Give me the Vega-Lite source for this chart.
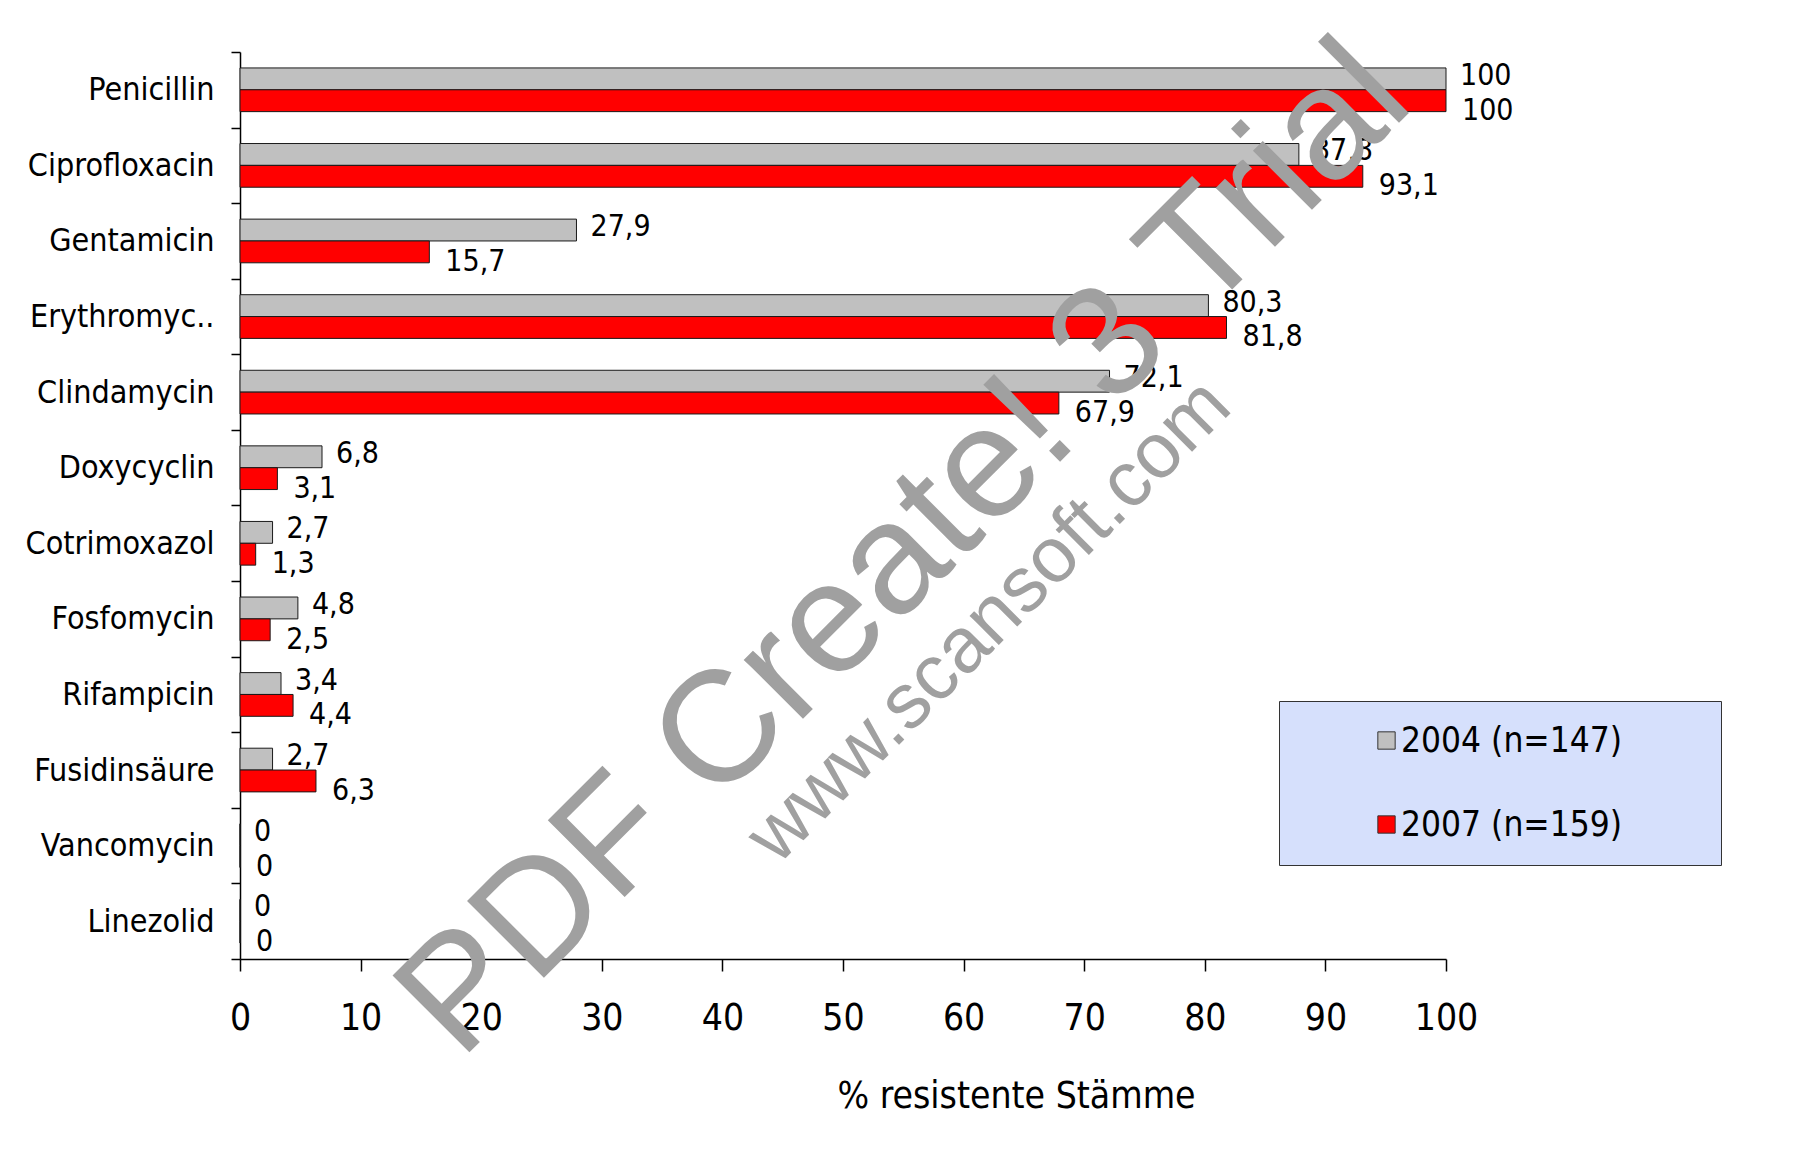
{
  "$schema": "https://vega.github.io/schema/vega-lite/v6.json",
  "width": 1206,
  "height": 907,
  "autosize": {"type": "none"},
  "padding": {"left": 240, "top": 52, "right": 354, "bottom": 192},
  "background": "white",
  "config": {
    "view": {"stroke": null},
    "font": "DejaVu Sans Condensed",
    "locale": {"number": {"decimal": ",", "thousands": ".", "grouping": [3], "currency": ["", " €"]}}
  },
  "datasets": {
    "resistance": [
      {"antibiotic": "Penicillin", "series": "2004 (n=147)", "value": 100},
      {"antibiotic": "Penicillin", "series": "2007 (n=159)", "value": 100},
      {"antibiotic": "Ciprofloxacin", "series": "2004 (n=147)", "value": 87.8},
      {"antibiotic": "Ciprofloxacin", "series": "2007 (n=159)", "value": 93.1},
      {"antibiotic": "Gentamicin", "series": "2004 (n=147)", "value": 27.9},
      {"antibiotic": "Gentamicin", "series": "2007 (n=159)", "value": 15.7},
      {"antibiotic": "Erythromyc..", "series": "2004 (n=147)", "value": 80.3},
      {"antibiotic": "Erythromyc..", "series": "2007 (n=159)", "value": 81.8},
      {"antibiotic": "Clindamycin", "series": "2004 (n=147)", "value": 72.1},
      {"antibiotic": "Clindamycin", "series": "2007 (n=159)", "value": 67.9},
      {"antibiotic": "Doxycyclin", "series": "2004 (n=147)", "value": 6.8},
      {"antibiotic": "Doxycyclin", "series": "2007 (n=159)", "value": 3.1},
      {"antibiotic": "Cotrimoxazol", "series": "2004 (n=147)", "value": 2.7},
      {"antibiotic": "Cotrimoxazol", "series": "2007 (n=159)", "value": 1.3},
      {"antibiotic": "Fosfomycin", "series": "2004 (n=147)", "value": 4.8},
      {"antibiotic": "Fosfomycin", "series": "2007 (n=159)", "value": 2.5},
      {"antibiotic": "Rifampicin", "series": "2004 (n=147)", "value": 3.4},
      {"antibiotic": "Rifampicin", "series": "2007 (n=159)", "value": 4.4},
      {"antibiotic": "Fusidinsäure", "series": "2004 (n=147)", "value": 2.7},
      {"antibiotic": "Fusidinsäure", "series": "2007 (n=159)", "value": 6.3},
      {"antibiotic": "Vancomycin", "series": "2004 (n=147)", "value": 0},
      {"antibiotic": "Vancomycin", "series": "2007 (n=159)", "value": 0},
      {"antibiotic": "Linezolid", "series": "2004 (n=147)", "value": 0},
      {"antibiotic": "Linezolid", "series": "2007 (n=159)", "value": 0}
    ]
  },
  "layer": [
    {
      "data": {"name": "resistance"},
      "encoding": {
        "y": {
          "field": "antibiotic",
          "type": "nominal",
          "sort": ["Penicillin", "Ciprofloxacin", "Gentamicin", "Erythromyc..", "Clindamycin", "Doxycyclin", "Cotrimoxazol", "Fosfomycin", "Rifampicin", "Fusidinsäure", "Vancomycin", "Linezolid"],
          "scale": {"paddingInner": 0, "paddingOuter": 0},
          "axis": {
            "title": null,
            "grid": false,
            "domainColor": "black",
            "domainWidth": 1.5,
            "tickColor": "black",
            "tickWidth": 1.5,
            "tickSize": 9,
            "tickBand": "extent",
            "labelFont": "DejaVu Sans Condensed",
            "labelFontSize": 32,
            "labelColor": "black",
            "labelPadding": 17,
            "labelLimit": 0
          }
        },
        "yOffset": {
          "field": "series",
          "type": "nominal",
          "sort": ["2004 (n=147)", "2007 (n=159)"],
          "scale": {"paddingInner": 0, "paddingOuter": 0.73}
        },
        "x": {
          "field": "value",
          "type": "quantitative",
          "scale": {"domain": [0, 100], "nice": false},
          "axis": {
            "values": [0, 10, 20, 30, 40, 50, 60, 70, 80, 90, 100],
            "title": "% resistente Stämme",
            "titleFont": "DejaVu Sans Condensed",
            "titleFontSize": 37,
            "titleFontWeight": "normal",
            "titleColor": "black",
            "titleX": 776,
            "titleY": 137,
            "titleBaseline": "middle",
            "titleAlign": "center",
            "grid": false,
            "domainColor": "black",
            "domainWidth": 1.5,
            "tickColor": "black",
            "tickWidth": 1.5,
            "tickSize": 12,
            "labelFont": "DejaVu Sans Condensed",
            "labelFontSize": 37,
            "labelColor": "black",
            "labelBaseline": "middle",
            "labelPadding": 47,
            "labelFlush": false,
            "labelOverlap": false
          }
        }
      },
      "layer": [
        {
          "mark": {"type": "bar", "stroke": "#1a1a1a", "strokeWidth": 1},
          "encoding": {
            "color": {
              "field": "series",
              "type": "nominal",
              "scale": {"domain": ["2004 (n=147)", "2007 (n=159)"], "range": ["#C0C0C0", "#FF0000"]},
              "legend": {
                "orient": "none",
                "legendX": 1039,
                "legendY": 649,
                "title": " ",
                "titleOrient": "right",
                "titlePadding": 77,
                "titleFontSize": 10,
                "fillColor": "#D6E0FC",
                "strokeColor": "#333333",
                "padding": 22,
                "symbolType": "square",
                "symbolSize": 300,
                "symbolStrokeColor": "#333333",
                "symbolStrokeWidth": 1,
                "symbolOffset": 68,
                "labelOffset": -3,
                "labelFont": "DejaVu Sans Condensed",
                "labelFontSize": 35,
                "labelColor": "black",
                "labelLimit": 0,
                "rowPadding": 48
              }
            }
          }
        },
        {
          "transform": [{"filter": "datum.series === '2004 (n=147)'"}],
          "mark": {"type": "text", "align": "left", "baseline": "middle", "dx": 14, "dy": -3, "fontSize": 30, "font": "DejaVu Sans Condensed", "color": "black"},
          "encoding": {"text": {"field": "value", "type": "quantitative", "format": "~f"}}
        },
        {
          "transform": [{"filter": "datum.series === '2007 (n=159)'"}],
          "mark": {"type": "text", "align": "left", "baseline": "middle", "dx": 16, "dy": 10, "fontSize": 30, "font": "DejaVu Sans Condensed", "color": "black"},
          "encoding": {"text": {"field": "value", "type": "quantitative", "format": "~f"}}
        }
      ]
    },
    {
      "data": {"values": [{"label": "PDF Create! 3 Trial", "px": 57.9, "py": 41.4}]},
      "mark": {"type": "text", "angle": 315, "align": "center", "baseline": "alphabetic", "font": "Liberation Sans", "fontSize": 158, "color": "#A0A0A0"},
      "encoding": {
        "text": {"field": "label"},
        "x": {"field": "px", "type": "quantitative", "scale": {"domain": [0, 100]}, "axis": null},
        "y": {"field": "py", "type": "quantitative", "scale": {"domain": [0, 100]}, "axis": null}
      }
    },
    {
      "data": {"values": [{"label": "www.scansoft.com", "px": 63.5, "py": 35.4}]},
      "mark": {"type": "text", "angle": 315, "align": "center", "baseline": "alphabetic", "font": "Liberation Sans", "fontSize": 78, "color": "#A0A0A0"},
      "encoding": {
        "text": {"field": "label"},
        "x": {"field": "px", "type": "quantitative", "scale": {"domain": [0, 100]}, "axis": null},
        "y": {"field": "py", "type": "quantitative", "scale": {"domain": [0, 100]}, "axis": null}
      }
    }
  ],
  "resolve": {"scale": {"x": "independent", "y": "independent"}}
}
